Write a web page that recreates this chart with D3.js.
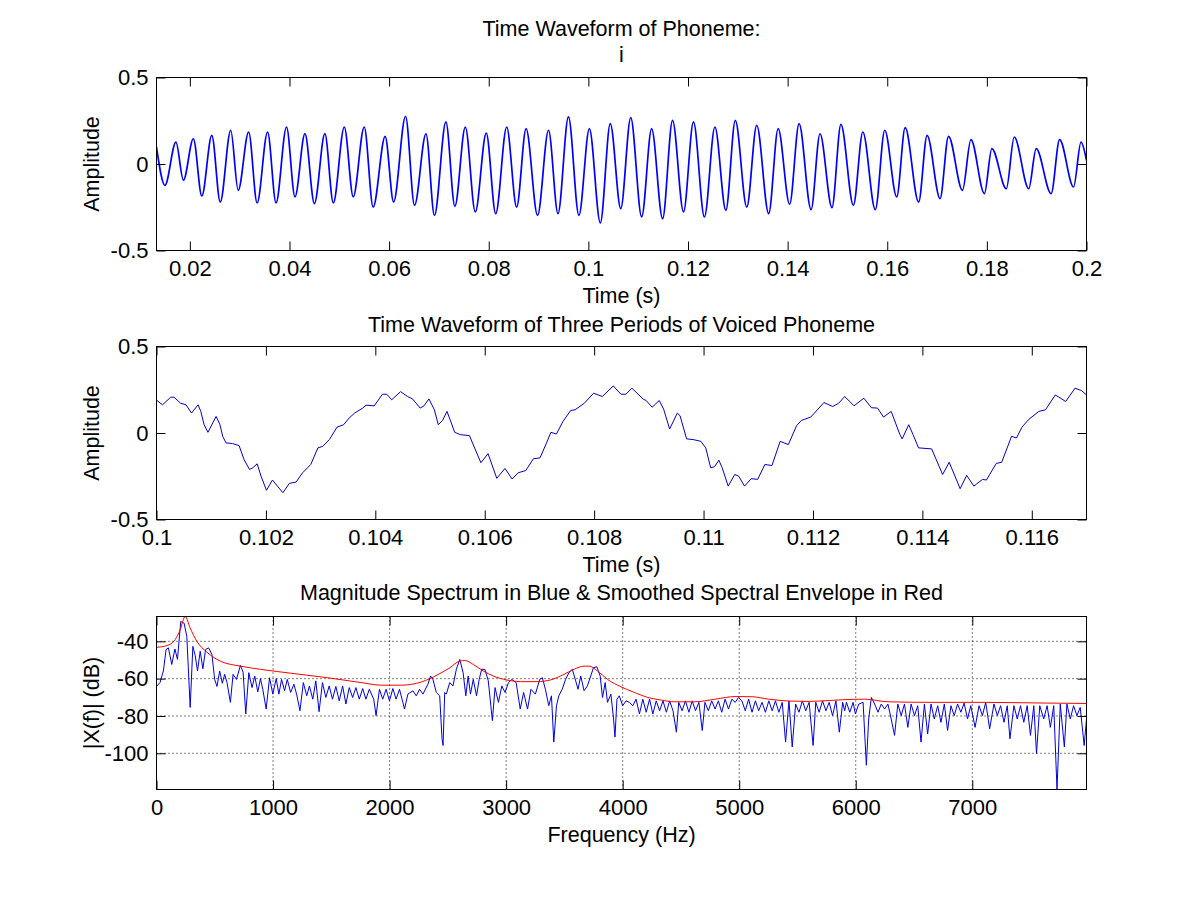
<!DOCTYPE html>
<html>
<head>
<meta charset="utf-8">
<script src="https://cdn.jsdelivr.net/npm/d3@7"></script>
<style>
  body { margin: 0; background: #fff; }
  svg text { font-family: "Liberation Sans", Arial, sans-serif; }
</style>
</head>
<body>
<div id="chart"></div>
<script>
// ---- Panel 1: whole phoneme, peaks and troughs ----
const wave1Time = [
  0.0133, 0.0150, 0.0172, 0.0187, 0.0207, 0.0224, 0.0244, 0.0261, 0.0282, 0.0297,
  0.0318, 0.0335, 0.0356, 0.0373, 0.0394, 0.0411, 0.0431, 0.0450, 0.0471, 0.0488,
  0.0510, 0.0528, 0.0550, 0.0568, 0.0592, 0.0609, 0.0633, 0.0651, 0.0674, 0.0691,
  0.0714, 0.0732, 0.0753,
  0.0773, 0.0795, 0.0814, 0.0836, 0.0856, 0.0875, 0.0898, 0.0920, 0.0939, 0.0960,
  0.0981, 0.1002, 0.1024, 0.1044, 0.1065, 0.1085, 0.1107, 0.1127, 0.1149, 0.1169,
  0.1191, 0.1211, 0.1233, 0.1254, 0.1276, 0.1295, 0.1318, 0.1338, 0.1362, 0.1381,
  0.1404, 0.1423, 0.1447, 0.1465, 0.1489, 0.1507, 0.1532, 0.1551, 0.1576, 0.1595,
  0.1619, 0.1636, 0.1663, 0.1680, 0.1706, 0.1723, 0.1751, 0.1768, 0.1795, 0.1810,
  0.1839, 0.1855, 0.1884, 0.1899, 0.1929, 0.1946, 0.1974, 0.1989, 0.2000
];
const wave1Amp = [
  0.098, -0.123, 0.127, -0.094, 0.146, -0.185, 0.166, -0.220, 0.195, -0.152,
  0.185, -0.225, 0.185, -0.225, 0.214, -0.190, 0.175, -0.229, 0.175, -0.225,
  0.214, -0.190, 0.214, -0.249, 0.160, -0.220, 0.276, -0.239, 0.175, -0.297,
  0.243, -0.245, 0.214,
  -0.277, 0.179, -0.287, 0.214, -0.249, 0.204, -0.297, 0.195, -0.287, 0.272,
  -0.297, 0.204, -0.341, 0.233, -0.258, 0.268, -0.306, 0.204, -0.316, 0.252,
  -0.277, 0.243, -0.306, 0.214, -0.268, 0.252, -0.249, 0.224, -0.287, 0.204,
  -0.233, 0.233, -0.264, 0.175, -0.252, 0.229, -0.239, 0.185, -0.264, 0.195,
  -0.190, 0.210, -0.220, 0.166, -0.200, 0.160, -0.152, 0.141, -0.171, 0.089,
  -0.143, 0.156, -0.143, 0.089, -0.171, 0.141, -0.133, 0.127, 0.021
];

// ---- Panel 2: three periods, 0.1 s to 0.117 s ----
const wave2Time = [
  0.10000, 0.10011, 0.10026, 0.10032, 0.10044, 0.10054, 0.10064, 0.10076, 0.10081, 0.10087,
  0.10094, 0.10109, 0.10116, 0.10121, 0.10127, 0.10139, 0.10151, 0.10160, 0.10170, 0.10176,
  0.10184, 0.10191, 0.10201, 0.10212, 0.10221, 0.10231, 0.10243, 0.10255, 0.10267, 0.10282,
  0.10295, 0.10304, 0.10316, 0.10330, 0.10342, 0.10352, 0.10362, 0.10377, 0.10383, 0.10398,
  0.10413, 0.10421, 0.10430, 0.10446, 0.10459, 0.10468, 0.10482, 0.10489, 0.10498, 0.10508,
  0.10515, 0.10523, 0.10531, 0.10539, 0.10545, 0.10556, 0.10572, 0.10584,
  0.10593, 0.10606, 0.10622, 0.10637, 0.10650, 0.10661, 0.10675, 0.10689, 0.10701, 0.10713,
  0.10721, 0.10731, 0.10743, 0.10757, 0.10765, 0.10782, 0.10799, 0.10815, 0.10835, 0.10849,
  0.10858, 0.10869, 0.10890, 0.10895, 0.10906, 0.10919, 0.10927, 0.10938, 0.10952, 0.10957,
  0.10969, 0.10981, 0.10995, 0.11004, 0.11013, 0.11020, 0.11028, 0.11034, 0.11045, 0.11057,
  0.11064, 0.11075, 0.11087, 0.11099, 0.11112, 0.11125, 0.11140, 0.11155, 0.11170, 0.11179,
  0.11196, 0.11220, 0.11236, 0.11247, 0.11258, 0.11275, 0.11293, 0.11307, 0.11318, 0.11329,
  0.11343, 0.11359, 0.11363, 0.11375, 0.11383, 0.11393, 0.11417, 0.11437, 0.11449, 0.11469,
  0.11481, 0.11494, 0.11510, 0.11517, 0.11535, 0.11545, 0.11563, 0.11572, 0.11582, 0.11595,
  0.11613, 0.11625, 0.11643, 0.11662, 0.11679, 0.11691, 0.11700
];
const wave2Amp = [
  0.190, 0.163, 0.207, 0.207, 0.172, 0.163, 0.115, 0.163, 0.125, 0.048,
  0.004, 0.096, 0.048, -0.019, -0.057, -0.061, -0.073, -0.153, -0.211, -0.201,
  -0.178, -0.249, -0.331, -0.272, -0.307, -0.345, -0.291, -0.284, -0.230, -0.182,
  -0.086, -0.077, -0.038, 0.034, 0.048, 0.086, 0.115, 0.144, 0.161, 0.157,
  0.224, 0.224, 0.192, 0.239, 0.211, 0.197, 0.144, 0.157, 0.197, 0.134,
  0.048, 0.073, 0.125, 0.057, 0.004, -0.010, -0.015, -0.105,
  -0.172, -0.119, -0.262, -0.205, -0.266, -0.230, -0.217, -0.149, -0.144, -0.057,
  0.004, -0.006, 0.067, 0.130, 0.134, 0.172, 0.230, 0.211, 0.272, 0.224,
  0.224, 0.259, 0.195, 0.188, 0.149, 0.188, 0.138, 0.023, 0.115, 0.100,
  -0.034, -0.038, -0.048, -0.086, -0.201, -0.195, -0.157, -0.201, -0.307, -0.240,
  -0.249, -0.307, -0.264, -0.268, -0.182, -0.188, -0.048, -0.067, 0.042, 0.073,
  0.092, 0.176, 0.153, 0.172, 0.211, 0.157, 0.201, 0.146, 0.144, 0.092,
  0.125, -0.010, -0.034, 0.048, -0.010, -0.086, -0.092, -0.240, -0.169, -0.322,
  -0.245, -0.307, -0.268, -0.272, -0.176, -0.169, -0.019, -0.029, 0.034, 0.080,
  0.125, 0.134, 0.220, 0.182, 0.259, 0.245, 0.220
];

// ---- Panel 3: magnitude spectrum (blue) ----
const specFreq = [
  0, 30, 59, 82, 102, 131, 158, 180, 208, 237, 260, 289, 312, 332, 352, 375, 398, 421, 447, 476,
  499, 519, 542, 565, 585, 605, 634, 657, 686, 720, 743, 766, 792, 820, 843, 869, 892, 912, 941, 970,
  998, 1027, 1050, 1073, 1099, 1122, 1151, 1179, 1202, 1231, 1260, 1289, 1312, 1341, 1367, 1395, 1424, 1453, 1482, 1510,
  1539, 1568, 1597, 1625, 1654, 1683, 1711, 1740, 1769, 1797, 1826, 1864, 1884, 1913, 1941, 1970, 1999, 2028, 2056, 2085,
  2114, 2128, 2157, 2200, 2229, 2258, 2286, 2329, 2352, 2372, 2401, 2430, 2450, 2459,
  2473, 2487, 2516, 2544, 2573, 2602, 2631, 2654, 2674, 2694, 2718, 2746, 2769, 2790, 2818, 2847, 2882, 2905, 2934, 2963,
  2991, 3020, 3049, 3086, 3121, 3150, 3184, 3213, 3251, 3288, 3311, 3337, 3366, 3389, 3409, 3432, 3452, 3481, 3510, 3539,
  3568, 3597, 3617, 3640, 3669, 3697, 3726, 3749, 3778, 3807, 3827, 3850, 3870, 3899, 3922, 3934, 3951, 3971, 4000, 4029,
  4058, 4087, 4115, 4144, 4173, 4202, 4231, 4259, 4288, 4317, 4346, 4375, 4403, 4432, 4461, 4481, 4510, 4539, 4568, 4597,
  4625, 4654, 4683, 4706, 4735, 4764, 4793, 4821, 4850, 4879, 4908, 4937, 4966, 4994, 5023, 5052, 5081, 5110, 5139, 5167,
  5196, 5225, 5254, 5283, 5311, 5340, 5369, 5398, 5427, 5455, 5484, 5513, 5542, 5571, 5600, 5634, 5657, 5686, 5715, 5744,
  5772, 5801, 5830, 5859, 5888, 5905, 5920, 5949, 5977, 5997, 6026, 6063, 6091, 6111, 6134, 6162, 6191, 6219, 6248, 6276,
  6304, 6333, 6361, 6390, 6418, 6447, 6475, 6504, 6532, 6560, 6589, 6617, 6646, 6674, 6703, 6731, 6760, 6788, 6817, 6845,
  6874, 6902, 6930, 6959, 6987, 7024, 7058, 7087, 7115, 7149, 7186, 7215, 7243, 7272, 7300, 7323, 7357, 7386, 7414, 7442,
  7471, 7499, 7528, 7551, 7579, 7613, 7642, 7670, 7699, 7727, 7755, 7790, 7812, 7841, 7869, 7898, 7926, 7960, 7980
];
const specDb = [
  -64.2, -62.1, -55.9, -44.4, -43.5, -52.4, -44.1, -49.7, -29.4, -30.3, -37.3, -75.4, -42.7, -47.6, -55.9, -45.3, -54.7, -44.4, -43.5, -47.1,
  -60.4, -64.2, -55.9, -62.5, -57.7, -62.1, -72.7, -57.7, -60.4, -52.9, -56.5, -78.9, -56.8, -64.8, -58.6, -67.1, -60.0, -65.7, -76.3, -59.5,
  -68.3, -60.0, -68.3, -60.4, -66.5, -60.4, -67.4, -63.0, -68.3, -77.2, -62.1, -69.2, -63.9, -71.0, -61.2, -77.7, -62.1, -70.1, -63.9, -71.0,
  -64.2, -71.9, -63.9, -73.6, -64.8, -70.1, -64.8, -71.0, -65.3, -71.0, -65.7, -71.0, -79.8, -65.7, -71.0, -65.7, -71.9, -65.3, -71.0, -65.7,
  -72.7, -76.3, -68.3, -66.5, -69.2, -65.7, -68.3, -63.0, -58.6, -60.4, -67.4, -69.2, -92.2, -95.8,
  -67.4, -68.3, -62.1, -63.9, -55.0, -49.7, -56.8, -69.2, -58.6, -68.3, -60.4, -69.2, -60.4, -55.0, -55.0, -61.2, -82.5, -64.8, -72.7, -63.9,
  -67.4, -62.1, -60.4, -62.1, -76.3, -67.4, -76.3, -65.7, -68.3, -60.4, -59.5, -65.7, -74.5, -69.2, -94.0, -74.5, -69.2, -65.7, -60.4, -56.8,
  -55.0, -61.2, -65.7, -58.6, -66.5, -63.9, -58.6, -54.2, -53.6, -58.6, -70.1, -62.1, -72.7, -68.3, -81.6, -91.3, -71.0, -69.2, -74.5, -71.9,
  -72.7, -74.5, -71.0, -78.9, -71.0, -78.0, -71.0, -78.9, -71.9, -77.2, -71.9, -78.0, -71.9, -77.2, -88.7, -72.7, -77.2, -71.9, -78.0, -71.9,
  -77.2, -72.7, -87.8, -72.7, -77.2, -71.9, -76.3, -71.9, -78.0, -71.0, -76.3, -71.0, -72.7, -70.1, -71.9, -77.2, -71.0, -78.0, -71.9, -77.2,
  -72.7, -78.0, -71.9, -77.2, -71.9, -78.0, -72.7, -94.0, -71.9, -96.6, -73.6, -78.0, -71.9, -77.2, -72.7, -95.8, -72.7, -78.0, -71.9, -77.2,
  -72.7, -79.8, -71.9, -88.7, -72.7, -77.2, -72.7, -78.0, -72.7, -78.9, -73.6, -72.7, -106.4, -81.6, -70.1, -73.6, -78.0, -73.6, -76.3, -73.6,
  -81.6, -90.4, -73.6, -79.8, -73.6, -86.1, -73.6, -79.8, -74.5, -94.0, -73.6, -89.6, -73.6, -81.6, -74.5, -83.4, -73.6, -87.8, -74.5, -79.8,
  -73.6, -78.0, -73.1, -81.6, -74.5, -86.1, -74.5, -79.8, -72.7, -86.9, -73.6, -79.8, -74.5, -83.4, -74.5, -92.2, -74.5, -81.6, -74.5, -83.4,
  -74.5, -90.4, -74.5, -100.2, -74.5, -81.6, -74.5, -86.1, -74.5, -119.4, -73.6, -96.6, -73.6, -81.6, -74.5, -79.8, -75.4, -95.8, -81.6
];

// ---- Panel 3: smoothed spectral envelope (red) ----
const envFreq = [
  0, 89, 160, 203, 246, 289, 346, 432, 547, 720, 892, 1180, 1467, 1755, 1927, 2100, 2272, 2416, 2516, 2602,
  2646, 2718, 2804, 2890, 3006, 3121, 3265, 3380, 3496, 3582, 3669, 3712, 3784, 3870, 3986, 4101, 4216, 4332, 4447, 4620,
  4793, 4966, 5110, 5254, 5427, 5600, 5772, 5888, 6077, 6276, 6646, 7073, 7642, 7980
];
const envDb = [
  -43.2, -42.3, -39.1, -33.8, -26.7, -32.9, -40.0, -45.8, -50.6, -53.3, -55.0, -57.3, -59.5, -62.1, -63.5, -63.5, -61.8, -57.8, -54.2, -50.6,
  -50.3, -52.4, -55.9, -58.6, -60.7, -61.6, -61.6, -60.7, -57.7, -55.0, -53.3, -53.3, -55.9, -60.4, -64.4, -67.4, -70.1, -71.5, -72.4, -72.4,
  -71.0, -69.6, -69.7, -71.0, -72.0, -72.2, -71.7, -71.3, -71.0, -72.4, -72.7, -72.7, -73.1, -73.3
];

// ---- Tick values ----
const ticksX1 = [0.02, 0.04, 0.06, 0.08, 0.1, 0.12, 0.14, 0.16, 0.18, 0.2];
const ticksX2 = [0.1, 0.102, 0.104, 0.106, 0.108, 0.11, 0.112, 0.114, 0.116];
const ticksX3 = [0, 1000, 2000, 3000, 4000, 5000, 6000, 7000];
const ticksAmp = [-0.5, 0, 0.5];
const ticksDb = [-100, -80, -60, -40];

class Panel {

  constructor(_config, _series) {
    this.config = {
      parentElement: _config.parentElement,
      id: _config.id,
      left: 156.5,
      top: _config.top,
      width: 930,
      height: 173,
      tickLength: 9,
      tickFontSize: 22,
      labelFontSize: 21.5,
      xDomain: _config.xDomain,
      yDomain: _config.yDomain,
      xTicks: _config.xTicks,
      yTicks: _config.yTicks,
      grid: _config.grid || false,
      titleLines: _config.titleLines,
      xLabel: _config.xLabel,
      yLabel: _config.yLabel
    }
    this.series = _series;
    this.initVis();
  }

  initVis() {
    let vis = this;
    const c = vis.config;

    vis.xScale = d3.scaleLinear().domain(c.xDomain).range([0, c.width]);
    vis.yScale = d3.scaleLinear().domain(c.yDomain).range([c.height, 0]);

    vis.chartArea = c.parentElement.append('g')
        .attr('transform', `translate(${c.left},${c.top})`);

    vis.chartArea.append('clipPath')
        .attr('id', c.id + '-clip')
      .append('rect')
        .attr('width', c.width)
        .attr('height', c.height);

    // dotted grid (only the spectrum has one)
    if (c.grid) {
      vis.chartArea.append('g').selectAll('line')
        .data(c.xTicks.filter(d => d > c.xDomain[0] && d < c.xDomain[1]))
        .join('line')
          .attr('x1', d => vis.xScale(d)).attr('x2', d => vis.xScale(d))
          .attr('y1', 0).attr('y2', c.height)
          .attr('stroke', '#000').attr('stroke-dasharray', '1,3');
      vis.chartArea.append('g').selectAll('line')
        .data(c.yTicks)
        .join('line')
          .attr('y1', d => vis.yScale(d)).attr('y2', d => vis.yScale(d))
          .attr('x1', 0).attr('x2', c.width)
          .attr('stroke', '#000').attr('stroke-dasharray', '1,3');
    }

    const line = d3.line()
        .x(d => vis.xScale(d[0]))
        .y(d => vis.yScale(d[1]));

    vis.chartArea.append('g')
        .attr('clip-path', `url(#${c.id}-clip)`)
      .selectAll('path')
      .data(vis.series)
      .join('path')
        .attr('fill', 'none')
        .attr('stroke', s => s.color)
        .attr('stroke-width', s => s.width)
        .attr('stroke-linejoin', 'round')
        .attr('d', s => line.curve(s.curve || d3.curveLinear)(d3.zip(s.x, s.y)));

    const fmt = d => String(d);
    const styleAxis = g => {
      g.select('.domain').remove();
      g.attr('font-size', c.tickFontSize).attr('font-family', null);
      g.selectAll('line').attr('stroke', '#000');
      g.selectAll('text').attr('fill', '#000');
    };

    vis.chartArea.append('g')
        .attr('transform', `translate(0,${c.height})`)
        .call(d3.axisBottom(vis.xScale).tickValues(c.xTicks).tickFormat(fmt)
          .tickSizeInner(-c.tickLength).tickSizeOuter(0).tickPadding(9.5))
        .call(styleAxis);
    vis.chartArea.append('g')
        .call(d3.axisTop(vis.xScale).tickValues(c.xTicks).tickFormat('')
          .tickSizeInner(-c.tickLength).tickSizeOuter(0))
        .call(styleAxis);
    vis.chartArea.append('g')
        .call(d3.axisLeft(vis.yScale).tickValues(c.yTicks).tickFormat(fmt)
          .tickSizeInner(-c.tickLength).tickSizeOuter(0).tickPadding(8))
        .call(styleAxis);
    vis.chartArea.append('g')
        .attr('transform', `translate(${c.width},0)`)
        .call(d3.axisRight(vis.yScale).tickValues(c.yTicks).tickFormat('')
          .tickSizeInner(-c.tickLength).tickSizeOuter(0))
        .call(styleAxis);

    // axes box
    vis.chartArea.append('rect')
        .attr('width', c.width)
        .attr('height', c.height)
        .attr('fill', 'none')
        .attr('stroke', '#000')
        .attr('shape-rendering', 'crispEdges');

    // title lines, x label and rotated y label
    vis.chartArea.selectAll('text.title')
      .data(c.titleLines)
      .join('text')
        .attr('class', 'title')
        .attr('x', c.width / 2)
        .attr('y', d => d.y - c.top)
        .attr('text-anchor', 'middle')
        .attr('font-size', c.labelFontSize)
        .text(d => d.text);

    vis.chartArea.append('text')
        .attr('x', c.width / 2)
        .attr('y', c.height + 52)
        .attr('text-anchor', 'middle')
        .attr('font-size', c.labelFontSize)
        .text(c.xLabel);

    vis.chartArea.append('text')
        .attr('transform', `translate(${99 - c.left},${c.height / 2}) rotate(-90)`)
        .attr('text-anchor', 'middle')
        .attr('font-size', c.labelFontSize)
        .text(c.yLabel);
  }
}

const svg = d3.select('#chart').append('svg')
    .attr('width', 1200)
    .attr('height', 900);

new Panel({
  parentElement: svg, id: 'p1', top: 77.5,
  xDomain: [0.0133, 0.2], yDomain: [-0.5, 0.5],
  xTicks: ticksX1, yTicks: ticksAmp,
  titleLines: [{text: 'Time Waveform of Phoneme:', y: 36}, {text: 'i', y: 62}],
  xLabel: 'Time (s)', yLabel: 'Amplitude'
}, [
  {x: wave1Time, y: wave1Amp, color: '#0000ff', width: 1.7, curve: d3.curveMonotoneX}
]);

new Panel({
  parentElement: svg, id: 'p2', top: 346.5,
  xDomain: [0.1, 0.117], yDomain: [-0.5, 0.5],
  xTicks: ticksX2, yTicks: ticksAmp,
  titleLines: [{text: 'Time Waveform of Three Periods of Voiced Phoneme', y: 332}],
  xLabel: 'Time (s)', yLabel: 'Amplitude'
}, [
  {x: wave2Time, y: wave2Amp, color: '#0000c8', width: 1}
]);

new Panel({
  parentElement: svg, id: 'p3', top: 616.5,
  xDomain: [0, 7980], yDomain: [-119.4, -26.7],
  xTicks: ticksX3, yTicks: ticksDb, grid: true,
  titleLines: [{text: 'Magnitude Spectrum in Blue & Smoothed Spectral Envelope in Red', y: 600}],
  xLabel: 'Frequency (Hz)', yLabel: '|X(f)| (dB)'
}, [
  {x: specFreq, y: specDb, color: '#0000dd', width: 1},
  {x: envFreq, y: envDb, color: '#ff0000', width: 1, curve: d3.curveMonotoneX}
]);
</script>
</body>
</html>
